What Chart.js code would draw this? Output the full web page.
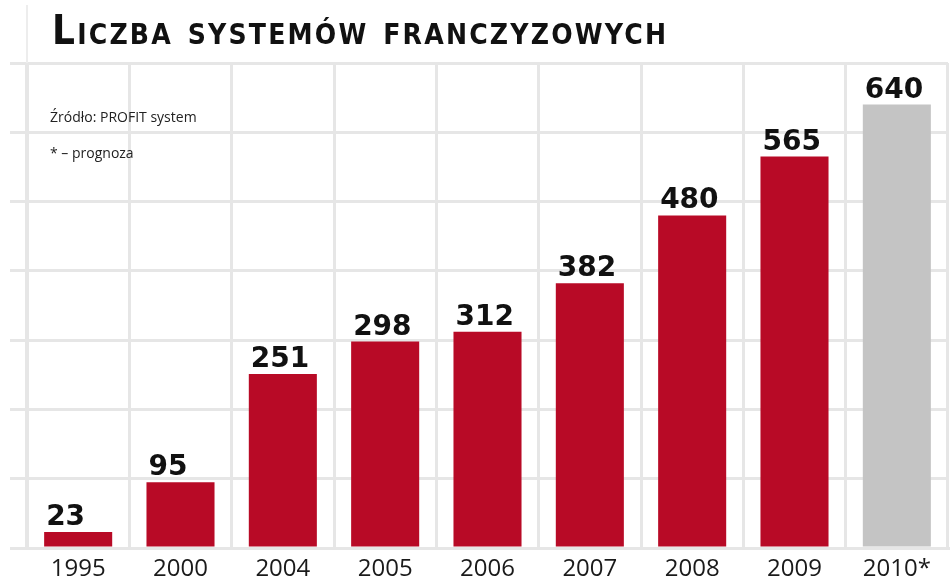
<!DOCTYPE html>
<html>
<head>
<meta charset="utf-8">
<script src="https://cdn.jsdelivr.net/npm/chart.js@4/dist/chart.umd.min.js"></script>
<style>
  html, body { margin: 0; padding: 0; background: #ffffff; }
  #wrap { width: 952px; height: 578px; }
</style>
</head>
<body>
<div id="wrap"><canvas id="franchiseChart" width="952" height="578"></canvas></div>
<script>
const chartTitle = 'Liczba systemów franczyzowych';
const sourceNote = 'Źródło: PROFIT system';
const forecastNote = '* – prognoza';

const categories = ['1995', '2000', '2004', '2005', '2006', '2007', '2008', '2009', '2010*'];
const systemCounts = [23, 95, 251, 298, 312, 382, 480, 565, 640];
const isForecast = [false, false, false, false, false, false, false, false, true];

const yMin = 0;
const yMax = 700;
const yStep = 100;

const RED = '#b80a26';
const GREY = '#c4c4c4';
const GRID = '#e6e6e6';

const barColours = isForecast.map(f => f ? GREY : RED);

// value labels sit on the left edge of each bar, plus the title and notes
const annotations = {
    id: 'annotations',
    beforeDatasetsDraw(chart) {
        // the first grid column runs up into the title band
        const ctx = chart.ctx;
        const area = chart.chartArea;
        ctx.save();
        ctx.strokeStyle = '#ededed';
        ctx.lineWidth = 2;
        ctx.beginPath();
        ctx.moveTo(area.left, 5);
        ctx.lineTo(area.left, area.top);
        ctx.stroke();
        ctx.restore();
    },
    afterDatasetsDraw(chart) {
        const ctx = chart.ctx;
        const meta = chart.getDatasetMeta(0);
        ctx.save();
        ctx.fillStyle = '#111111';
        ctx.font = 'bold 28px "DejaVu Sans"';
        ctx.textAlign = 'left';
        ctx.textBaseline = 'alphabetic';
        meta.data.forEach((bar, i) => {
            const left = bar.x - bar.width / 2;
            ctx.fillText(String(systemCounts[i]), left + 2, bar.y - 7);
        });
        ctx.restore();
    },
    afterDraw(chart) {
        const ctx = chart.ctx;
        ctx.save();
        ctx.fillStyle = '#111111';
        ctx.textAlign = 'left';
        ctx.textBaseline = 'alphabetic';
        ctx.font = 'small-caps bold 40px "DejaVu Sans Condensed"';
        ctx.letterSpacing = '2.2px';
        ctx.fillText(chartTitle, 52, 44);
        ctx.letterSpacing = '0px';

        ctx.fillStyle = '#222222';
        ctx.font = '14px "Open Sans"';
        ctx.fillText(sourceNote, 50, 122);
        ctx.fillText(forecastNote, 50, 158);
        ctx.restore();
    }
};

const ctx = document.getElementById('franchiseChart').getContext('2d');
const franchiseChart = new Chart(ctx, {
    type: 'bar',
    data: {
        labels: categories,
        datasets: [{
            label: 'Liczba systemów',
            data: systemCounts,
            backgroundColor: barColours,
            borderWidth: 0,
            barPercentage: 0.665,
            categoryPercentage: 1.0
        }]
    },
    options: {
        responsive: false,
        animation: false,
        layout: {
            padding: { top: 63, left: 10, right: 4, bottom: 0 }
        },
        plugins: {
            legend: { display: false },
            tooltip: { enabled: false },
            title: { display: false }
        },
        scales: {
            x: {
                afterFit(scale) { scale.height = 30; },
                grid: {
                    color: GRID,
                    lineWidth: 3,
                    offset: true,
                    drawTicks: false
                },
                border: { color: GRID, width: 3 },
                ticks: {
                    color: '#1a1a1a',
                    padding: 9,
                    font: { family: '"Open Sans"', size: 24, lineHeight: 1.0 }
                }
            },
            y: {
                min: yMin,
                max: yMax,
                ticks: { stepSize: yStep, display: false },
                grid: {
                    color: GRID,
                    lineWidth: 3,
                    tickLength: 17
                },
                border: { color: GRID, width: 3 }
            }
        }
    },
    plugins: [annotations]
});
</script>
</body>
</html>
